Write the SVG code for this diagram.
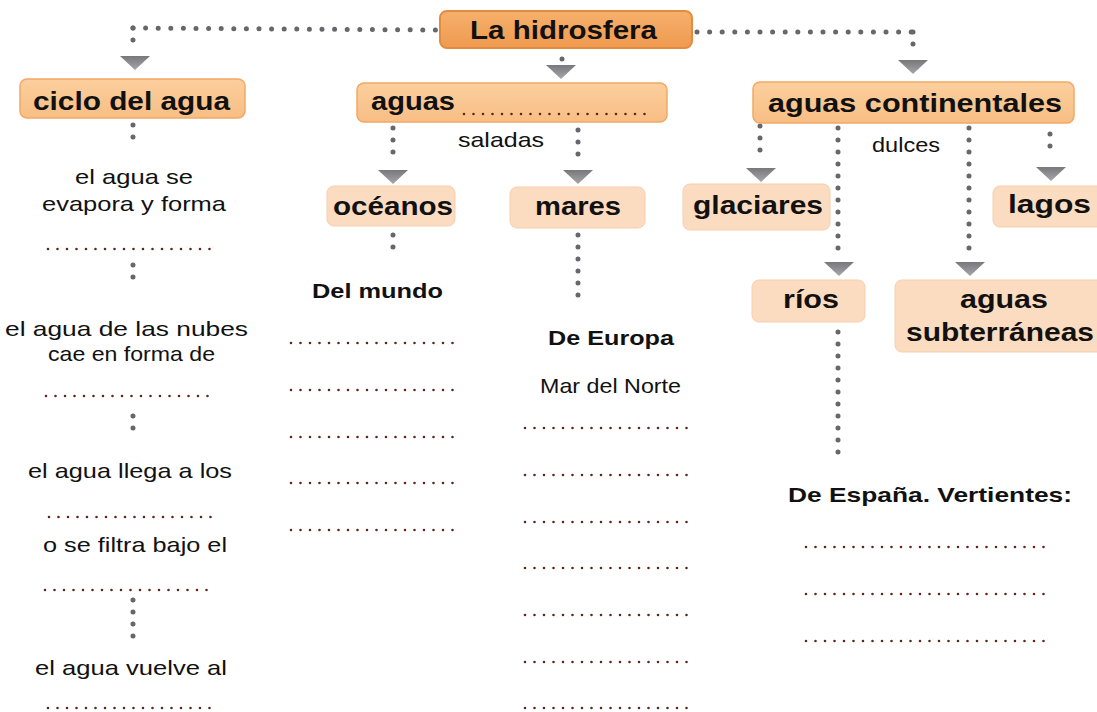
<svg xmlns="http://www.w3.org/2000/svg" width="1097" height="712" viewBox="0 0 1097 712">
<style>
.b{font-family:"Liberation Sans",Arial,sans-serif;font-weight:bold;font-size:25px;fill:#111}
.s{font-family:"Liberation Sans",Arial,sans-serif;font-weight:bold;font-size:21px;fill:#111}
.n{font-family:"Liberation Sans",Arial,sans-serif;font-size:21px;fill:#111}
.c{fill:none;stroke:#66666d;stroke-width:5;stroke-linecap:round;stroke-dasharray:0 12}
.h{stroke-dasharray:0 12.6}
.bl{fill:none;stroke:#5e2617;stroke-width:2.6;stroke-linecap:round;stroke-dasharray:0 9.5}
.top{fill:url(#gTop);stroke:#e38b3e;stroke-width:2}
.l1{fill:url(#gL1);stroke:#f1a965;stroke-width:1.5}
.l2{fill:#fcdcc0;stroke:#f7cfad;stroke-width:1}
</style>
<defs>
<linearGradient id="gTop" x1="0" y1="0" x2="0" y2="1"><stop offset="0" stop-color="#f6b06c"/><stop offset="1" stop-color="#ef9a4f"/></linearGradient>
<linearGradient id="gL1" x1="0" y1="0" x2="0" y2="1"><stop offset="0" stop-color="#fbcf9e"/><stop offset="1" stop-color="#f8be84"/></linearGradient>
<linearGradient id="gTri" x1="0" y1="0" x2="0" y2="1"><stop offset="0" stop-color="#77777c"/><stop offset="1" stop-color="#a6a6ab"/></linearGradient>
<path id="tri" d="M-15,0 L15,0 L0,14 Z" fill="url(#gTri)"/>
</defs>
<rect width="1097" height="712" fill="#ffffff"/>

<g id="connectors">
<line class="c h" x1="133" y1="28" x2="436" y2="30"/>
<line class="c" x1="133" y1="28" x2="133" y2="50"/>
<use href="#tri" x="135" y="56"/>
<line class="c h" x1="697" y1="32" x2="913" y2="32"/>
<line class="c" x1="913" y1="32" x2="913" y2="54"/>
<use href="#tri" x="913" y="60"/>
<line class="c" x1="562" y1="59" x2="562" y2="60"/>
<use href="#tri" x="561" y="65"/>

<line class="c" x1="393" y1="128" x2="393" y2="164"/>
<use href="#tri" x="393" y="170"/>
<line class="c" x1="578" y1="130" x2="578" y2="166"/>
<use href="#tri" x="578" y="170"/>

<line class="c" x1="760" y1="126" x2="760" y2="162"/>
<use href="#tri" x="761" y="168"/>
<line class="c" x1="838" y1="128" x2="838" y2="256"/>
<use href="#tri" x="839" y="262"/>
<line class="c" x1="969" y1="128" x2="969" y2="252"/>
<use href="#tri" x="970" y="262"/>
<line class="c" x1="1050" y1="134" x2="1050" y2="158"/>
<use href="#tri" x="1051" y="167"/>

<line class="c" x1="133" y1="125" x2="133" y2="149"/>
<line class="c" x1="133" y1="265" x2="133" y2="289"/>
<line class="c" x1="133" y1="416" x2="133" y2="440"/>
<line class="c" x1="133" y1="600" x2="133" y2="637"/>

<line class="c" x1="393" y1="235" x2="393" y2="259"/>
<line class="c" x1="578" y1="235" x2="578" y2="306"/>
<line class="c" x1="838" y1="332" x2="838" y2="464"/>
</g>

<g id="la-hidrosfera">
<rect class="top" x="440" y="11" width="252" height="37" rx="7"/>
<text class="b" x="470" y="39" textLength="187" lengthAdjust="spacingAndGlyphs">La hidrosfera</text>
</g>

<g id="ciclo-del-agua">
<rect class="l1" x="20" y="79" width="225" height="39" rx="7"/>
<text class="b" x="33" y="110" textLength="197" lengthAdjust="spacingAndGlyphs">ciclo del agua</text>
</g>

<g id="aguas-saladas">
<rect class="l1" x="357" y="83" width="310" height="39" rx="7"/>
<text class="b" x="371" y="110" textLength="84" lengthAdjust="spacingAndGlyphs">aguas</text>
<line class="bl" x1="464" y1="114" x2="645" y2="114"/>
<text class="n" x="458" y="147" textLength="86" lengthAdjust="spacingAndGlyphs">saladas</text>
</g>

<g id="aguas-continentales">
<rect class="l1" x="753" y="82" width="321" height="41" rx="7"/>
<text class="b" x="768" y="112" textLength="294" lengthAdjust="spacingAndGlyphs">aguas continentales</text>
<text class="n" x="872" y="152" textLength="68" lengthAdjust="spacingAndGlyphs">dulces</text>
</g>

<g id="oceanos">
<rect class="l2" x="327" y="186" width="128" height="40" rx="7"/>
<text class="b" x="333" y="215" textLength="120" lengthAdjust="spacingAndGlyphs">océanos</text>
</g>

<g id="mares">
<rect class="l2" x="510" y="187" width="135" height="41" rx="7"/>
<text class="b" x="535" y="215" textLength="86" lengthAdjust="spacingAndGlyphs">mares</text>
</g>

<g id="glaciares">
<rect class="l2" x="683" y="184" width="147" height="46" rx="7"/>
<text class="b" x="693" y="214" textLength="130" lengthAdjust="spacingAndGlyphs">glaciares</text>
</g>

<g id="lagos">
<rect class="l2" x="993" y="186" width="115" height="41" rx="7"/>
<text class="b" x="1008" y="213" textLength="83" lengthAdjust="spacingAndGlyphs">lagos</text>
</g>

<g id="rios">
<rect class="l2" x="752" y="280" width="113" height="42" rx="7"/>
<text class="b" x="783" y="308" textLength="56" lengthAdjust="spacingAndGlyphs">ríos</text>
</g>

<g id="aguas-subterraneas">
<rect class="l2" x="895" y="280" width="215" height="72" rx="7"/>
<text class="b" x="960" y="308" textLength="88" lengthAdjust="spacingAndGlyphs">aguas</text>
<text class="b" x="906" y="341" textLength="188" lengthAdjust="spacingAndGlyphs">subterráneas</text>
</g>

<g id="ciclo-pasos">
<text class="n" x="75" y="184" textLength="118" lengthAdjust="spacingAndGlyphs">el agua se</text>
<text class="n" x="42" y="211" textLength="184" lengthAdjust="spacingAndGlyphs">evapora y forma</text>
<line class="bl" x1="48" y1="249" x2="219" y2="249"/>
<text class="n" x="5" y="336" textLength="243" lengthAdjust="spacingAndGlyphs">el agua de las nubes</text>
<text class="n" x="48" y="361" textLength="167" lengthAdjust="spacingAndGlyphs">cae en forma de</text>
<line class="bl" x1="46" y1="396" x2="217" y2="396"/>
<text class="n" x="28" y="478" textLength="204" lengthAdjust="spacingAndGlyphs">el agua llega a los</text>
<line class="bl" x1="49" y1="517" x2="220" y2="517"/>
<text class="n" x="43" y="552" textLength="184" lengthAdjust="spacingAndGlyphs">o se filtra bajo el</text>
<line class="bl" x1="45" y1="590" x2="216" y2="590"/>
<text class="n" x="35" y="675" textLength="192" lengthAdjust="spacingAndGlyphs">el agua vuelve al</text>
<line class="bl" x1="48" y1="708" x2="219" y2="708"/>
</g>

<g id="oceanos-lista">
<text class="s" x="312" y="298" textLength="131" lengthAdjust="spacingAndGlyphs">Del mundo</text>
<line class="bl" x1="291" y1="343" x2="462" y2="343"/>
<line class="bl" x1="291" y1="390" x2="462" y2="390"/>
<line class="bl" x1="291" y1="437" x2="462" y2="437"/>
<line class="bl" x1="291" y1="483" x2="462" y2="483"/>
<line class="bl" x1="291" y1="530" x2="462" y2="530"/>
</g>

<g id="mares-lista">
<text class="s" x="548" y="345" textLength="126" lengthAdjust="spacingAndGlyphs">De Europa</text>
<text class="n" x="540" y="393" textLength="141" lengthAdjust="spacingAndGlyphs" font-size="19">Mar del Norte</text>
<line class="bl" x1="525" y1="428" x2="696" y2="428"/>
<line class="bl" x1="525" y1="475" x2="696" y2="475"/>
<line class="bl" x1="525" y1="522" x2="696" y2="522"/>
<line class="bl" x1="525" y1="568" x2="696" y2="568"/>
<line class="bl" x1="525" y1="615" x2="696" y2="615"/>
<line class="bl" x1="525" y1="662" x2="696" y2="662"/>
<line class="bl" x1="525" y1="708" x2="696" y2="708"/>
</g>

<g id="rios-lista">
<text class="s" x="788" y="502" textLength="284" lengthAdjust="spacingAndGlyphs">De España. Vertientes:</text>
<line class="bl" x1="806" y1="547" x2="1053" y2="547"/>
<line class="bl" x1="806" y1="594" x2="1053" y2="594"/>
<line class="bl" x1="806" y1="641" x2="1053" y2="641"/>
</g>
</svg>
